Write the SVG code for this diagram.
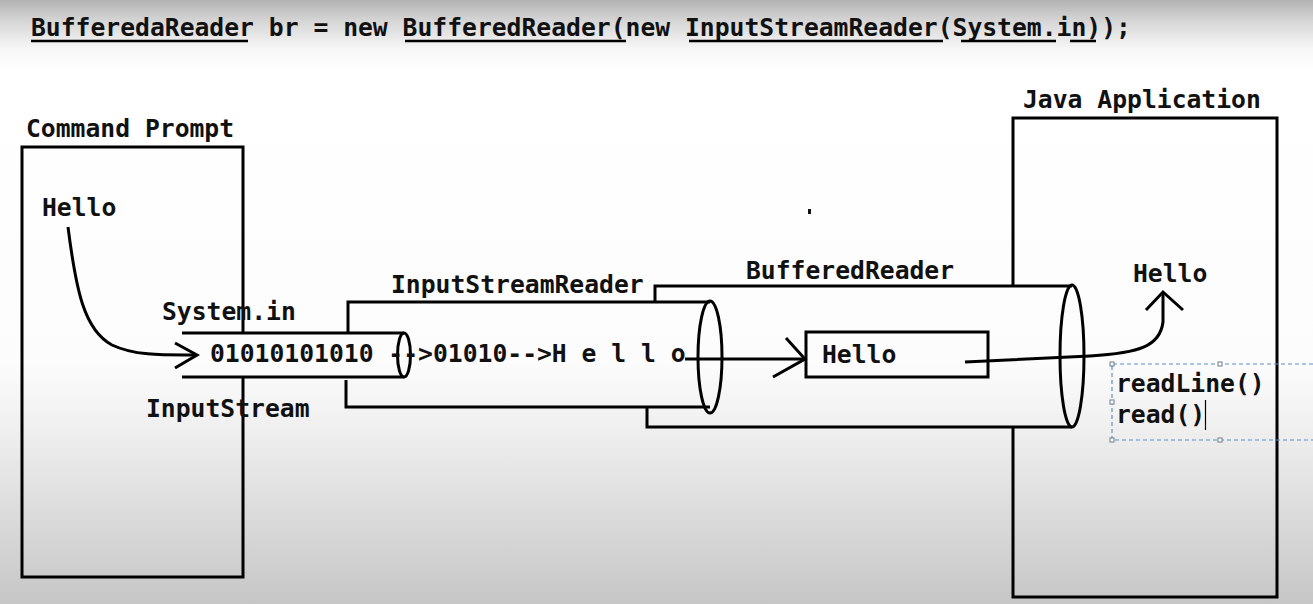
<svg xmlns="http://www.w3.org/2000/svg" width="1313" height="604" viewBox="0 0 1313 604">
  <defs>
    <linearGradient id="bg" x1="0" y1="0" x2="0" y2="1">
      <stop offset="0" stop-color="#b2b2b2"/>
      <stop offset="0.035" stop-color="#d6d6d6"/>
      <stop offset="0.08" stop-color="#f6f6f6"/>
      <stop offset="0.12" stop-color="#ffffff"/>
      <stop offset="0.6" stop-color="#fcfcfc"/>
      <stop offset="0.72" stop-color="#eeeeee"/>
      <stop offset="1" stop-color="#c6c6c6"/>
    </linearGradient>
    <style>
      .t { font-family: "DejaVu Sans Mono", "Liberation Mono", monospace; font-weight: bold; font-size: 24.7px; fill: #111; }
      .s { stroke: #000; stroke-width: 3; fill: none; }
      .ul { stroke: #000; stroke-width: 2.5; }
      .sel { stroke: #5b8fc7; stroke-width: 1.2; stroke-dasharray: 4 3; fill: none; }
      .h { fill: #fff; stroke: #6a7a8a; stroke-width: 1; }
    </style>
  </defs>
  <rect x="0" y="0" width="1313" height="604" fill="url(#bg)"/>

  <g id="title">
    <text class="t" x="31" y="36">BufferedaReader br = new BufferedReader(new InputStreamReader(System.in));</text>
    <line class="ul" x1="31" y1="41" x2="248" y2="41"/>
    <line class="ul" x1="405" y1="41" x2="626" y2="41"/>
    <line class="ul" x1="689" y1="41" x2="943" y2="41"/>
    <line class="ul" x1="961" y1="41" x2="1056" y2="41"/>
    <line class="ul" x1="1070" y1="41" x2="1096" y2="41"/>
  </g>

  <g id="command-prompt">
    <text class="t" x="26" y="137">Command Prompt</text>
    <path class="s" d="M243,333 L243,147 L22,147 L22,577 L243,577 L243,378"/>
    <text class="t" x="42" y="216">Hello</text>
  </g>

  <g id="java-application">
    <text class="t" x="1023" y="108">Java Application</text>
    <path class="s" d="M1013,286 L1013,118 L1277,118 L1277,597 L1013,597 L1013,427"/>
    <text class="t" x="1133" y="282">Hello</text>
    <text class="t" x="1116" y="392">readLine()</text>
    <text class="t" x="1116" y="423">read()</text>
  </g>

  <g id="inputstream">
    <text class="t" x="162" y="320">System.in</text>
    <text class="t" x="146" y="417">InputStream</text>
    <line class="s" x1="182" y1="333" x2="404" y2="333"/>
    <line class="s" x1="182" y1="377" x2="404" y2="377"/>
    <ellipse class="s" cx="404" cy="355" rx="6.5" ry="22"/>
    <text class="t" x="210" y="362">01010101010 -->01010-->H e l l o</text>
  </g>

  <g id="inputstreamreader">
    <text class="t" x="391" y="293">InputStreamReader</text>
    <path class="s" d="M348,333 L348,302 L710,302"/>
    <path class="s" d="M346,380 L346,407 L710,407"/>
    <ellipse class="s" cx="710" cy="357" rx="12" ry="56"/>
  </g>

  <g id="bufferedreader">
    <text class="t" x="746" y="279">BufferedReader</text>
    <path class="s" d="M655,301 L655,286 L1072,286"/>
    <path class="s" d="M647,408 L647,427 L1072,427"/>
    <ellipse class="s" cx="1072" cy="356" rx="12" ry="71"/>
  </g>

  <g id="hello-buffer">
    <rect class="s" x="806" y="332" width="182" height="45"/>
    <text class="t" x="822" y="363">Hello</text>
  </g>

  <g id="connectors">
    <path class="s" d="M68,227 C76,290 84,330 112,345 C135,356 165,355 196,355"/>
    <path class="s" d="M175,343 L197,355 L175,368"/>
    <line class="s" x1="685" y1="359" x2="805" y2="359"/>
    <path class="s" d="M786,338 L805,359 L773,377"/>
    <path class="s" d="M965,362 L1090,356 C1140,353 1160,346 1163,322 L1163,293"/>
    <path class="s" d="M1146,310 L1163,292 L1183,310"/>
  </g>

  <g id="selection">
    <path class="sel" d="M1313,364 L1112,364 L1112,440 L1313,440"/>
    <rect class="h" x="1110" y="362" width="4" height="4"/>
    <rect class="h" x="1218" y="362" width="4" height="4"/>
    <rect class="h" x="1110" y="400" width="4" height="4"/>
    <rect class="h" x="1110" y="438" width="4" height="4"/>
    <rect class="h" x="1218" y="438" width="4" height="4"/>
    <line x1="1205.5" y1="400" x2="1205.5" y2="430" stroke="#000" stroke-width="1.2"/>
  </g>

  <rect x="808" y="209" width="3" height="5" fill="#111"/>
</svg>
